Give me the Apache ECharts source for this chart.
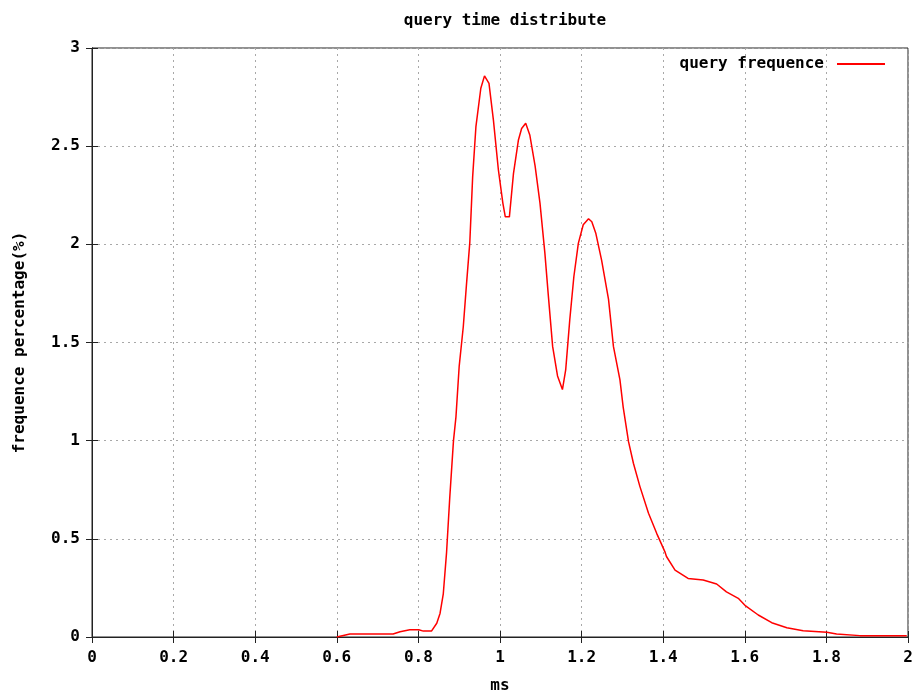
<!DOCTYPE html>
<html>
<head>
<meta charset="utf-8">
<script src="https://cdn.jsdelivr.net/npm/echarts@6/dist/echarts.min.js"></script>
<style>html,body{margin:0;padding:0;background:#fff}#c{width:919px;height:691px}</style>
</head>
<body>
<div id="c"></div>
<script>
const titleText = 'query time distribute';
const xName = 'ms';
const yName = 'frequence percentage(%)';
const seriesName = 'query frequence';
const msValues = [0.600,0.632,0.738,0.755,0.779,0.801,0.812,0.832,0.845,0.853,0.861,0.869,0.877,0.886,0.892,0.900,0.910,0.918,0.926,0.933,0.941,0.953,0.962,0.973,0.984,0.996,1.007,1.013,1.023,1.033,1.045,1.053,1.063,1.073,1.086,1.098,1.110,1.118,1.129,1.141,1.153,1.161,1.171,1.181,1.192,1.204,1.217,1.225,1.235,1.249,1.266,1.278,1.294,1.302,1.315,1.327,1.343,1.364,1.384,1.404,1.408,1.429,1.461,1.498,1.531,1.555,1.584,1.602,1.633,1.666,1.703,1.743,1.801,1.825,1.882,1.997];
const freqValues = [0,0.015,0.015,0.027,0.037,0.037,0.030,0.030,0.07,0.12,0.22,0.43,0.715,1.00,1.12,1.38,1.58,1.80,2.01,2.345,2.60,2.795,2.858,2.82,2.63,2.38,2.21,2.14,2.14,2.36,2.53,2.59,2.617,2.557,2.40,2.21,1.955,1.75,1.48,1.33,1.26,1.36,1.615,1.835,2.005,2.10,2.13,2.115,2.055,1.92,1.72,1.48,1.31,1.17,0.995,0.885,0.766,0.63,0.528,0.435,0.41,0.341,0.298,0.29,0.27,0.23,0.197,0.158,0.112,0.073,0.047,0.032,0.024,0.015,0.007,0.007];
const xTicks = {min:0, max:2, interval:0.2};
const yTicks = {min:0, max:3, interval:0.5};

const font = '"DejaVu Sans Mono", monospace';
const axisCol = '#222';
const gridLine = {show:true, lineStyle:{color:'#a8a8a8', type:[2,4], width:1}};
const tickStyle = {show:true, inside:true, length:6, lineStyle:{color:axisCol}};
const labelStyle = {fontFamily:font, fontWeight:'bold', fontSize:16, color:'#000'};

const chart = echarts.init(document.getElementById('c'));
chart.setOption({
  animation:false,
  backgroundColor:'#fff',
  title:{text:titleText, left:500, textAlign:'center', top:8,
    textStyle:{fontFamily:font, fontWeight:'bold', fontSize:16, color:'#000'}},
  legend:{show:true, right:29, top:51, align:'right', itemWidth:48, itemHeight:2,
    icon:'rect',
    textStyle:{fontFamily:font, fontWeight:'bold', fontSize:16, color:'#000', padding:[0,8,0,0]},
    data:[{name:seriesName, itemStyle:{color:'#ff0000'}}]},
  grid:{left:92, right:11, top:48, bottom:54, outerBoundsMode:'none', containLabel:false,
    show:true, borderColor:axisCol, borderWidth:1},
  xAxis:[{
    type:'value', min:xTicks.min, max:xTicks.max, interval:xTicks.interval,
    name:xName, nameLocation:'middle', nameGap:41,
    nameTextStyle:labelStyle,
    axisLine:{show:true, lineStyle:{color:axisCol}},
    axisTick:tickStyle,
    axisLabel:Object.assign({margin:13, formatter:v=>String(+v.toFixed(1))}, labelStyle),
    splitLine:gridLine
  },{
    type:'value', position:'top', min:xTicks.min, max:xTicks.max, interval:xTicks.interval,
    axisLine:{show:true, lineStyle:{color:axisCol}}, axisTick:tickStyle, axisLabel:{show:false}, splitLine:{show:false}
  }],
  yAxis:[{
    type:'value', min:yTicks.min, max:yTicks.max, interval:yTicks.interval,
    name:yName, nameLocation:'middle', nameGap:64, nameRotate:90,
    nameTextStyle:labelStyle,
    axisLine:{show:true, lineStyle:{color:axisCol}},
    axisTick:tickStyle,
    axisLabel:Object.assign({margin:12, formatter:v=>String(+v.toFixed(1))}, labelStyle),
    splitLine:gridLine
  },{
    type:'value', position:'right', min:yTicks.min, max:yTicks.max, interval:yTicks.interval,
    axisLine:{show:true, lineStyle:{color:axisCol}}, axisTick:tickStyle, axisLabel:{show:false}, splitLine:{show:false}
  }],
  series:[{
    name:seriesName, type:'line', showSymbol:false, symbol:'none',
    lineStyle:{color:'#ff0000', width:1.5}, itemStyle:{color:'#ff0000'},
    data: msValues.map((x,i)=>[x, freqValues[i]])
  }]
});
</script>
</body>
</html>
